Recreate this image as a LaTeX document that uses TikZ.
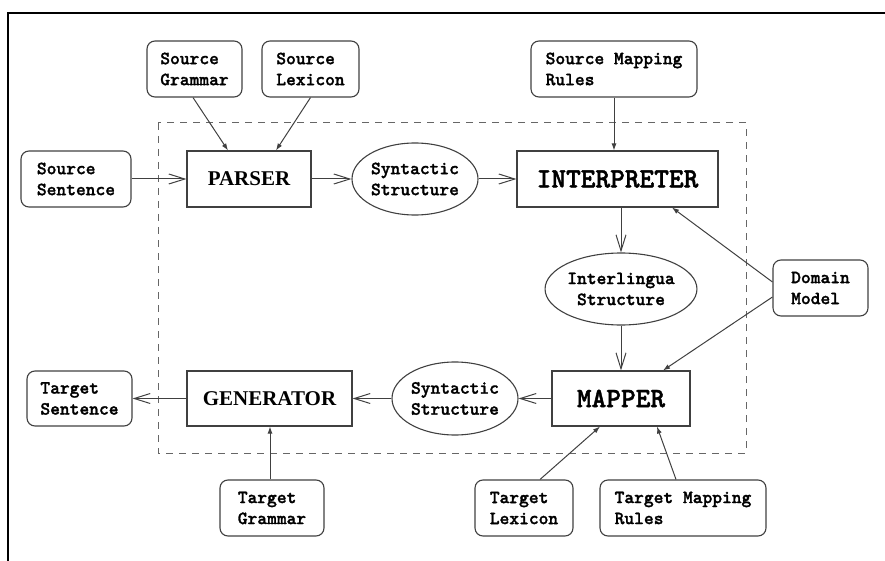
\documentclass[tikz,border=0pt]{standalone}
\usepackage{fontspec}
\setmainfont{Liberation Serif}
\newfontfamily\kbtt{lmmonolt10-bold}[Extension=.otf, FakeBold=1.5]
\usetikzlibrary{shapes.geometric,arrows.meta}
\tikzset{>={Straight Barb[length=16pt,width=10pt]}}
\newcommand{\kbfont}{\fontsize{18.6}{21}\selectfont\kbtt}
\newcommand{\modserif}{\fontsize{21}{21}\selectfont\rmfamily\bfseries}
\newcommand{\modmono}{\fontsize{28}{28}\selectfont\kbtt}

\begin{document}
\begin{tikzpicture}[x=1pt,y=-1pt,
              kbox/.style={draw=black!75, line width=1.1pt, rounded corners=8pt, align=left, font=\kbfont, minimum height=56pt, inner sep=0pt},
              module/.style={draw=black!75, line width=1.1pt, minimum height=56pt, inner sep=0pt},
              struct/.style={draw=black!75, line width=1.1pt, ellipse, align=center, font=\kbfont, inner sep=0pt},
              flow/.style={line width=1pt, draw=black!75, ->},
              feed/.style={line width=1pt, draw=black!75, -{Latex[length=7pt,width=5pt]}},
             ]
\useasboundingbox (0,0) rectangle (885,561);
\draw[line width=2pt] (7.5,561) -- (7.5,13) -- (885,13);
\draw[black!60, line width=1pt, dash pattern=on 7pt off 6pt] (158,123) rectangle (746,453);

% knowledge sources on the source side
\node[kbox, minimum width=95pt] (sg) at (194.5,69) {Source\\Grammar};
\node[kbox, minimum width=97pt] (sl) at (310.5,69) {Source\\Lexicon};
\node[kbox, minimum width=166pt] (smr) at (614,69) {Source Mapping\\Rules};
\node[kbox, minimum width=110pt] (ss) at (76,179) {Source\\Sentence};

% analysis
\node[module, minimum width=124pt, font=\modserif] (parser) at (249,179) {PARSER};
\node[struct, minimum width=126pt, minimum height=72pt] (syna) at (415,179) {Syntactic\\Structure};
\node[module, minimum width=201pt, font=\modmono] (interp) at (617.5,179) {INTERPRETER};
\node[struct, minimum width=144pt, minimum height=72pt] (inter) at (621,289) {Interlingua\\Structure};
\node[kbox, minimum width=95pt] (dm) at (820.5,288) {Domain\\Model};

% generation
\node[module, minimum width=138pt, minimum height=55pt, font=\modmono] (mapper) at (621,398.5) {MAPPER};
\node[struct, minimum width=126pt, minimum height=73pt] (synb) at (455,398.5) {Syntactic\\Structure};
\node[module, minimum width=165pt, minimum height=55pt, font=\modserif] (gen) at (269.5,398.5) {GENERATOR};
\node[kbox, minimum width=105pt, minimum height=55pt] (ts) at (79.5,398.5) {Target\\Sentence};

% knowledge sources on the target side
\node[kbox, minimum width=104pt] (tg) at (272,508) {Target\\Grammar};
\node[kbox, minimum width=98pt] (tl) at (524,508) {Target\\Lexicon};
\node[kbox, minimum width=166pt] (tmr) at (683,508) {Target Mapping\\Rules};

% main flow
\draw[flow] (ss) -- (parser);
\draw[flow] (parser) -- (syna);
\draw[flow] (syna) -- (interp);
\draw[flow] (inter.north |- interp.south) -- (inter.north);
\draw[flow] (inter) -- (mapper);
\draw[flow] (mapper) -- (synb);
\draw[flow] (synb) -- (gen);
\draw[flow] (gen) -- (ts);

% knowledge feeds
\draw[feed] ([xshift=-1.5pt]sg.south) -- ([xshift=-21pt]parser.north);
\draw[feed] (sl.south) -- ([xshift=27pt]parser.north);
\draw[feed] (smr.south) -- (smr.south |- interp.north);
\draw[feed] ([yshift=6pt]dm.west) -- ([xshift=54.5pt]interp.south);
\draw[feed] ([yshift=-9pt]dm.west) -- ([xshift=42pt]mapper.north);
\draw[feed] ([xshift=-2pt]tg.north) -- ([xshift=-2pt]tg.north |- gen.south);
\draw[feed] ([xshift=16pt]tl.north) -- ([xshift=-21pt]mapper.south);
\draw[feed] ([xshift=-7pt]tmr.north) -- ([xshift=36pt]mapper.south);
\end{tikzpicture}
\end{document}
